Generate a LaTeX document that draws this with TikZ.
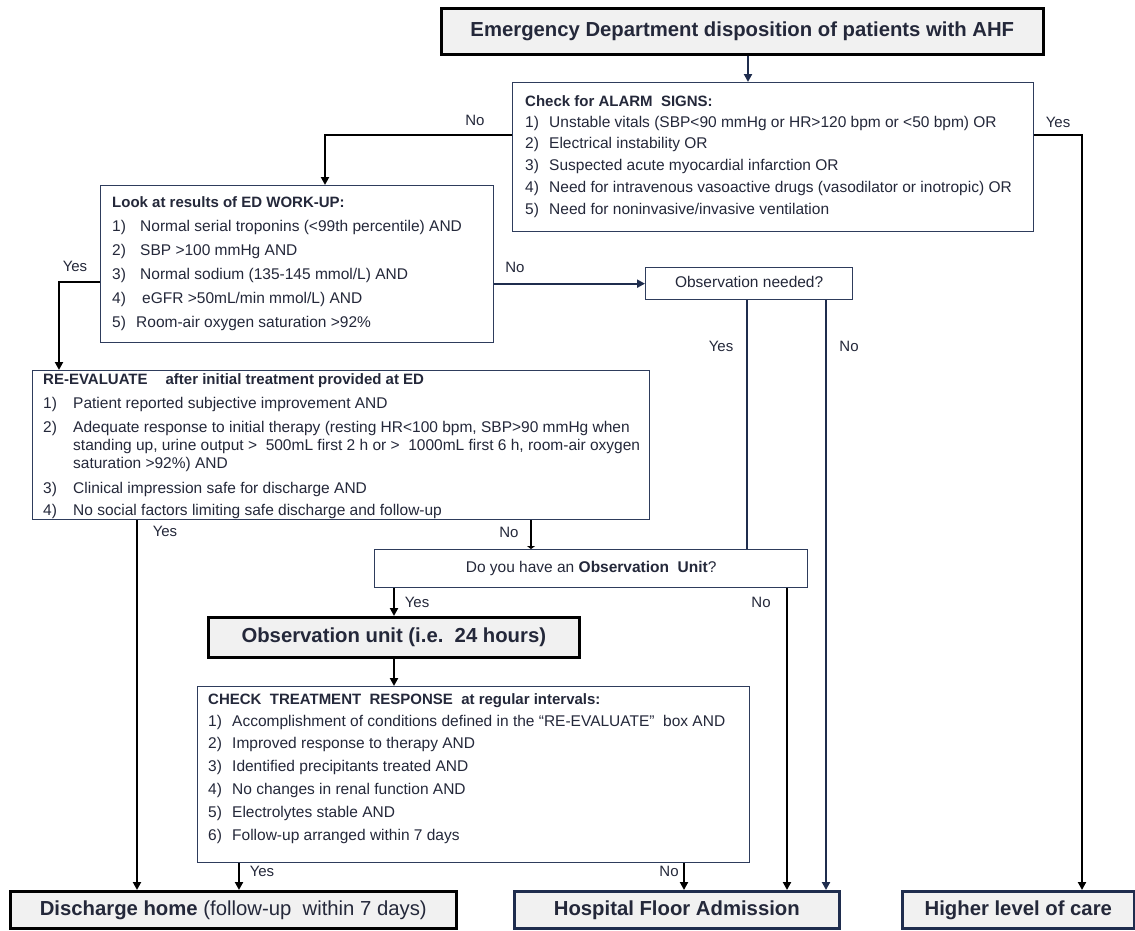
\documentclass[tikz,border=0pt]{standalone}
\usepackage{fontspec}
\setmainfont{Liberation Sans}
\usetikzlibrary{arrows.meta}
\definecolor{txtc}{RGB}{36,40,58}
\definecolor{navy}{RGB}{31,45,78}
\definecolor{boxc}{RGB}{46,60,92}
\definecolor{grayfill}{RGB}{241,241,241}
\tikzset{
  thinbox/.style={draw=boxc, line width=1.3pt, fill=white, rectangle, inner sep=0pt, anchor=north west},
  qbox/.style={thinbox, text=txtc, font=\fontsize{15.5}{18}\selectfont, text height=11pt, text depth=3pt},
  boldbox/.style={draw=black, line width=2.6pt, fill=grayfill, rectangle, inner sep=0pt, anchor=north west, text=txtc, font=\bfseries\fontsize{20.3}{24}\selectfont, text height=14.5pt, text depth=4pt},
  navybox/.style={boldbox, draw=navy},
  txt/.style={anchor=west, inner sep=0pt, text=txtc, font=\fontsize{15.5}{18}\selectfont, text height=11pt, text depth=3pt},
  ttl/.style={txt, font=\bfseries\fontsize{15}{18}\selectfont},
  lbl/.style={inner sep=0pt, text=txtc, font=\fontsize{15}{18}\selectfont, text height=11pt, text depth=3pt},
  conn/.style={line width=2.2pt, draw=black},
  arrowend/.style={-{Triangle[length=8pt,width=8pt]}},
  smallend/.style={-{Triangle[length=3pt,width=8pt]}},
}
\begin{document}
\begin{tikzpicture}[x=1pt, y=-1pt]
\fill[white] (0,0) rectangle (1135,930);
\useasboundingbox (0,0) rectangle (1135,930);

% ---------- boxes ----------
\node[boldbox, minimum width=602pt, minimum height=46pt] (top) at (440,7) {Emergency Department disposition of patients with AHF};
\node[thinbox, minimum width=521pt, minimum height=149pt] (alarm) at (512,82) {};
\node[thinbox, minimum width=393pt, minimum height=157pt] (ed) at (100,185) {};
\node[qbox, minimum width=207pt, minimum height=32pt] (obsq) at (645,267) {Observation needed?};
\node[thinbox, minimum width=617pt, minimum height=149pt] (reeval) at (32,370) {};
\node[qbox, minimum width=433pt, minimum height=38pt] (haveq) at (374,549) {Do you have\ an \textbf{Observation\ \ Unit}?};
\node[boldbox, minimum width=371pt, minimum height=40pt] (obsunit) at (207,616) {Observation unit (i.e.\ \ 24 hours)};
\node[thinbox, minimum width=552pt, minimum height=176pt] (check) at (197,686) {};
\node[boldbox, minimum width=446pt, minimum height=37pt] (discharge) at (9,890) {Discharge home \mdseries(follow-up\ \ within 7 days)};
\node[navybox, minimum width=325pt, minimum height=37pt] (hosp) at (513,890) {Hospital Floor Admission};
\node[navybox, minimum width=232pt, minimum height=37pt] (higher) at (901,890) {Higher level of care};

% ---------- alarm text ----------
\node[ttl] (alT) at (525,102) {Check for ALARM\ \ SIGNS:};
\foreach \t [count=\i] in {
  {Unstable vitals (SBP<90 mmHg or HR>120 bpm or <50 bpm) OR},
  {Electrical instability OR},
  {Suspected acute myocardial infarction OR},
  {Need for intravenous vasoactive drugs (vasodilator or inotropic) OR},
  {Need for noninvasive/invasive ventilation}} {
  \node[txt] (alN\i) at (525,{123+(\i-1)*21.8}) {\i)};
  \node[txt] (alI\i) at (549,{123+(\i-1)*21.8}) {\t};
}

% ---------- ED work-up text ----------
\node[ttl] (edT) at (112,203) {Look at results of ED WORK-UP:};
\foreach \t/\xx [count=\i] in {
  {Normal serial troponins (<99th percentile) AND}/140,
  {SBP >100 mmHg AND}/140,
  {Normal sodium (135-145 mmol/L) AND}/140,
  {eGFR >50mL/min mmol/L) AND}/142,
  {Room-air oxygen saturation >92\%}/136} {
  \node[txt] (edN\i) at (112,{227+(\i-1)*24}) {\i)};
  \node[txt] (edI\i) at (\xx,{227+(\i-1)*24}) {\t};
}

% ---------- re-evaluate text ----------
\node[ttl] (reT) at (43,380) {RE-EVALUATE\hspace*{18pt}after initial treatment provided at ED};
\node[txt] (reN1) at (43,404) {1)};
\node[txt] (reI1) at (73,404) {Patient reported subjective improvement AND};
\node[txt] (reN2) at (43,428) {2)};
\node[txt] (reI2a) at (73,428) {Adequate response to initial therapy (resting HR<100 bpm, SBP>90 mmHg when};
\node[txt] (reI2b) at (73,446) {standing up, urine output >\ \ 500mL first 2 h or >\ \ 1000mL first 6 h, room-air oxygen};
\node[txt] (reI2c) at (73,464) {saturation >92\%) AND};
\node[txt] (reN3) at (43,489) {3)};
\node[txt] (reI3) at (73,489) {Clinical impression safe for discharge AND};
\node[txt] (reN4) at (43,511) {4)};
\node[txt] (reI4) at (73,511) {No social factors limiting safe discharge and follow-up};

% ---------- check treatment text ----------
\node[ttl] (chT) at (208,700) {CHECK\ \ TREATMENT\ \ RESPONSE\ \ at regular intervals:};
\foreach \t [count=\i] in {
  {Accomplishment of conditions defined in the “RE-EVALUATE”\ \ box AND},
  {Improved response to therapy AND},
  {Identified precipitants treated AND},
  {No changes in renal function AND},
  {Electrolytes stable AND},
  {Follow-up arranged within 7 days}} {
  \node[txt] (chN\i) at (208,{722+(\i-1)*22.8}) {\i)};
  \node[txt] (chI\i) at (232,{722+(\i-1)*22.8}) {\t};
}

% ---------- connector coordinates ----------
\coordinate (xTop) at (748,0);
\coordinate (kNo) at (325,135);
\coordinate (kYes) at (1082,135);
\coordinate (kEd) at (59,282);
\coordinate (xObsA) at (747,0);
\coordinate (xObsB) at (826,0);
\coordinate (xRe) at (137,0);
\coordinate (xReNo) at (531,0);
\coordinate (xHaveY) at (394,0);
\coordinate (xHaveN) at (787,0);
\coordinate (xChkY) at (239,0);
\coordinate (xChkN) at (684,0);

% ---------- connectors ----------
\draw[conn, draw=navy, arrowend] (top.south -| xTop) -- (alarm.north -| xTop);
\draw[conn, arrowend] (alarm.west |- kNo) -- (kNo) -- (ed.north -| kNo);
\draw[conn, arrowend] (alarm.east |- kYes) -- (kYes) -- (higher.north -| kYes);
\draw[conn, arrowend] (ed.west |- kEd) -- (kEd) -- (reeval.north -| kEd);
\draw[conn, draw=navy, arrowend] (ed.east |- obsq.west) -- (obsq.west);
\draw[conn, draw=navy] (obsq.south -| xObsA) -- (haveq.north -| xObsA);
\draw[conn, draw=navy, arrowend] (obsq.south -| xObsB) -- (hosp.north -| xObsB);
\draw[conn, arrowend] (reeval.south -| xRe) -- (discharge.north -| xRe);
\draw[conn, smallend] (reeval.south -| xReNo) -- (haveq.north -| xReNo);
\draw[conn, arrowend] (haveq.south -| xHaveY) -- (obsunit.north -| xHaveY);
\draw[conn, arrowend] (haveq.south -| xHaveN) -- (hosp.north -| xHaveN);
\draw[conn, arrowend] (obsunit.south -| xHaveY) -- (check.north -| xHaveY);
\draw[conn, arrowend] (check.south -| xChkY) -- (discharge.north -| xChkY);
\draw[conn, arrowend] (check.south -| xChkN) -- (hosp.north -| xChkN);

% ---------- labels ----------
\node[lbl] (lNo1) at (475,121) {No};
\node[lbl] (lYes1) at (1058,123) {Yes};
\node[lbl] (lYes2) at (75,267) {Yes};
\node[lbl] (lNo2) at (515,268) {No};
\node[lbl] (lYes3) at (721,347) {Yes};
\node[lbl] (lNo3) at (849,347) {No};
\node[lbl] (lYes4) at (165,532) {Yes};
\node[lbl] (lNo4) at (509,533) {No};
\node[lbl] (lYes5) at (417,603) {Yes};
\node[lbl] (lNo5) at (761,603) {No};
\node[lbl] (lYes6) at (262,872) {Yes};
\node[lbl] (lNo6) at (669,872) {No};
\end{tikzpicture}
\end{document}
